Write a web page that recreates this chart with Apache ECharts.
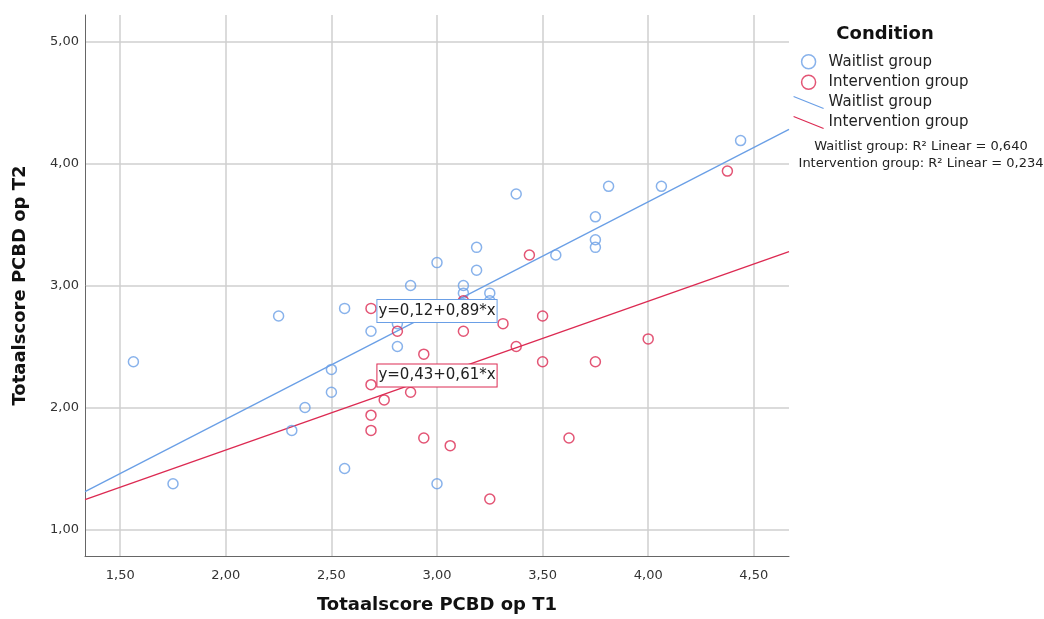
<!DOCTYPE html>
<html>
<head>
<meta charset="utf-8">
<script src="https://cdn.jsdelivr.net/npm/echarts@6/dist/echarts.min.js"></script>
<style>
  html, body { margin: 0; padding: 0; background: #fff; }
  #chart { width: 1044px; height: 619px; }
</style>
</head>
<body>
<div id="chart"></div>
<script>
// Totaalscore PCBD op T1 (x) vs T2 (y)
var waitX = [1.5625, 1.75, 2.25, 2.3125, 2.375, 2.5, 2.5, 2.5625, 2.5625, 2.6875, 2.8125, 2.8125, 2.875, 3.0, 3.0,
  3.125, 3.125, 3.1875, 3.1875, 3.25, 3.25, 3.375, 3.5625, 3.75, 3.75, 3.75, 3.8125, 4.0625, 4.4375];
var waitY = [2.375, 1.375, 2.75, 1.8125, 2.0, 2.3125, 2.125, 2.8125, 1.5, 2.625, 2.5, 2.6875, 3.0, 3.1875, 1.375,
  3.0, 2.9375, 3.3125, 3.125, 2.9375, 2.875, 3.75, 3.25, 3.5625, 3.375, 3.3125, 3.8125, 3.8125, 4.1875];

var intX = [2.6875, 2.6875, 2.6875, 2.6875, 2.75, 2.8125, 2.875, 2.9375, 2.9375, 3.0625, 3.125, 3.125, 3.25,
  3.3125, 3.375, 3.4375, 3.5, 3.5, 3.625, 3.75, 4.0, 4.375];
var intY = [2.8125, 2.1875, 1.9375, 1.8125, 2.0625, 2.625, 2.125, 2.4375, 1.75, 1.6875, 2.875, 2.625, 1.25,
  2.6875, 2.5, 3.25, 2.75, 2.375, 1.75, 2.375, 2.5625, 3.9375];

// fit line end points (read at the plot edges)
var waitFitX = [1.3333, 4.6667];
var waitFitY = [1.31, 4.28];
var intFitX = [1.3333, 4.6667];
var intFitY = [1.245, 3.277];

var xTicks = [1.5, 2.0, 2.5, 3.0, 3.5, 4.0, 4.5];
var yTicks = [1, 2, 3, 4, 5];

var blue = '#6a9fe6';
var red = '#dc2a52';
var font = 'DejaVu Sans';

function pairs(xs, ys) {
  return xs.map(function (x, i) { return [x, ys[i]]; });
}
function comma(v) {
  return v.toFixed(2).replace('.', ',');
}

var chart = echarts.init(document.getElementById('chart'));

var option = {
  backgroundColor: '#fff',
  animation: false,
  textStyle: { fontFamily: font },
  title: [{
    text: 'Condition',
    left: 880,
    top: 20,
    textAlign: 'center',
    textStyle: { fontSize: 18, fontWeight: 'bold', color: '#111', fontFamily: font }
  }, {
    text: 'Waitlist group: R² Linear = 0,640\nIntervention group: R² Linear = 0,234',
    left: 916,
    top: 133,
    textAlign: 'center',
    textStyle: { fontSize: 13, fontWeight: 'normal', color: '#222', lineHeight: 17, fontFamily: font }
  }],
  legend: {
    orient: 'vertical',
    left: 788,
    top: 49,
    itemWidth: 30,
    itemHeight: 14,
    itemGap: 5,
    textStyle: { fontSize: 15, color: '#222', fontFamily: font },
    formatter: function (name) { return name.trim(); },
    data: [
      { name: 'Waitlist group', icon: 'circle', itemStyle: { color: 'rgba(0,0,0,0)', borderColor: blue, borderWidth: 1.5 } },
      { name: 'Intervention group', icon: 'circle', itemStyle: { color: 'rgba(0,0,0,0)', borderColor: red, borderWidth: 1.5 } },
      { name: 'Waitlist group ', icon: 'path://M0,0L30,12', itemStyle: { color: 'rgba(0,0,0,0)', borderColor: blue, borderWidth: 1.2 } },
      { name: 'Intervention group ', icon: 'path://M0,0L30,12', itemStyle: { color: 'rgba(0,0,0,0)', borderColor: red, borderWidth: 1.2 } }
    ]
  },
  grid: { left: 85, right: 255, top: 15, bottom: 60, containLabel: false },
  xAxis: {
    type: 'value',
    min: 1.3333,
    max: 4.6667,
    name: 'Totaalscore PCBD op T1',
    nameLocation: 'middle',
    nameGap: 40,
    nameTextStyle: { fontSize: 18, fontWeight: 'bold', color: '#111', fontFamily: font },
    axisLine: { show: true, onZero: false, lineStyle: { color: '#666', width: 1 } },
    axisTick: { show: false, customValues: xTicks },
    axisLabel: { customValues: xTicks, formatter: comma, fontSize: 13, color: '#333', margin: 13 },
    splitLine: { show: true, lineStyle: { color: '#cfcfcf', width: 1.5 } }
  },
  yAxis: {
    type: 'value',
    min: 0.783,
    max: 5.217,
    name: 'Totaalscore PCBD op T2',
    nameLocation: 'middle',
    nameGap: 56,
    nameTextStyle: { fontSize: 18, fontWeight: 'bold', color: '#111', fontFamily: font },
    axisLine: { show: true, onZero: false, lineStyle: { color: '#666', width: 1 } },
    axisTick: { show: false, customValues: yTicks },
    axisLabel: { customValues: yTicks, formatter: comma, fontSize: 13, color: '#333', margin: 6 },
    splitLine: { show: true, lineStyle: { color: '#cfcfcf', width: 1.5 } }
  },
  series: [{
    name: 'Waitlist group',
    type: 'scatter',
    symbol: 'circle',
    symbolSize: 10,
    itemStyle: { color: 'rgba(0,0,0,0)', borderColor: blue, borderWidth: 1.5 },
    data: pairs(waitX, waitY),
    z: 3
  }, {
    name: 'Intervention group',
    type: 'scatter',
    symbol: 'circle',
    symbolSize: 10,
    itemStyle: { color: 'rgba(0,0,0,0)', borderColor: red, borderWidth: 1.5 },
    data: pairs(intX, intY),
    z: 3
  }, {
    name: 'Waitlist group ',
    type: 'line',
    symbol: 'none',
    lineStyle: { color: blue, width: 1.3 },
    itemStyle: { color: blue },
    data: pairs(waitFitX, waitFitY),
    z: 2,
    markPoint: {
      symbol: 'rect',
      symbolSize: 1,
      itemStyle: { color: 'rgba(0,0,0,0)' },
      label: {
        show: true, position: 'inside', fontSize: 15, color: '#222',
        backgroundColor: '#fff', borderColor: blue, borderWidth: 1, padding: [4, 1, 3, 1],
        formatter: 'y=0,12+0,89*x'
      },
      data: [{ coord: [3.0, 2.79] }]
    }
  }, {
    name: 'Intervention group ',
    type: 'line',
    symbol: 'none',
    lineStyle: { color: red, width: 1.3 },
    itemStyle: { color: red },
    data: pairs(intFitX, intFitY),
    z: 2,
    markPoint: {
      symbol: 'rect',
      symbolSize: 1,
      itemStyle: { color: 'rgba(0,0,0,0)' },
      label: {
        show: true, position: 'inside', fontSize: 15, color: '#222',
        backgroundColor: '#fff', borderColor: red, borderWidth: 1, padding: [4, 1, 3, 1],
        formatter: 'y=0,43+0,61*x'
      },
      data: [{ coord: [3.0, 2.262] }]
    }
  }]
};

chart.setOption(option);
</script>
</body>
</html>
